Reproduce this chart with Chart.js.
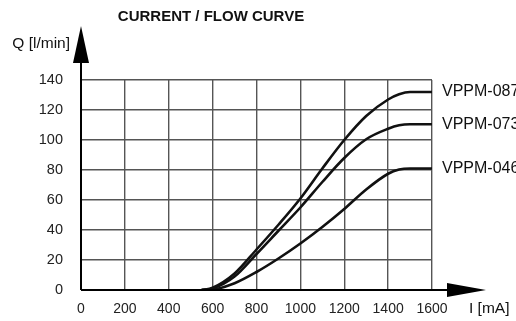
<!DOCTYPE html>
<html lang="en">
<head>
    <meta charset="UTF-8">
    <title>Current / Flow Curve</title>
    <script src="https://cdn.jsdelivr.net/npm/chart.js"></script>
    <style>
        html, body { margin: 0; padding: 0; background: #fff; }
        #wrap { width: 516px; height: 321px; }
    </style>
</head>
<body>
    <div id="wrap"><canvas id="courbe"></canvas></div>

    <script>
        // Courant de commande (mA) et débit (l/min) pour chaque modèle
        const courant   = [550, 600, 700, 800, 900, 1000, 1100, 1200, 1300, 1400, 1450, 1500, 1600];
        const vppm087   = [0, 1.5, 11, 27, 43.5, 61, 81, 100, 116, 127, 130.5, 132, 132];
        const vppm073   = [0, 1, 9, 24, 39.5, 55, 72, 88, 100.5, 107.5, 109.8, 110.5, 110.5];
        const vppm046   = [0, 0.3, 4.5, 12, 21, 31, 42, 54, 67, 77.5, 80.3, 81, 81];
        const nomsSeries = ['VPPM-087', 'VPPM-073', 'VPPM-046'];
        const ticksX = [0, 200, 400, 600, 800, 1000, 1200, 1400, 1600];
        const ticksY = [0, 20, 40, 60, 80, 100, 120, 140];

        const police = '"Liberation Sans", Arial, sans-serif';

        const serie = (valeurs, nom) => ({
            label: nom,
            data: courant.map((c, i) => ({ x: c, y: valeurs[i] })),
            borderColor: '#111',
            borderWidth: 2.6,
            pointRadius: 0,
            cubicInterpolationMode: 'monotone',
            fill: false
        });

        // Flèches des axes, titre, unités et noms des courbes
        const habillage = {
            id: 'habillage',
            afterDraw(chart) {
                const { ctx, scales: { x, y } } = chart;
                const x0 = x.getPixelForValue(0);
                const y0 = y.getPixelForValue(0);
                ctx.save();
                ctx.strokeStyle = '#000';
                ctx.fillStyle = '#000';
                ctx.lineWidth = 2;

                // axe vertical prolongé + flèche
                ctx.beginPath();
                ctx.moveTo(x0, y0);
                ctx.lineTo(x0, 50);
                ctx.stroke();
                ctx.beginPath();
                ctx.moveTo(x0, 26);
                ctx.lineTo(x0 - 8, 63);
                ctx.lineTo(x0 + 8, 63);
                ctx.closePath();
                ctx.fill();

                // axe horizontal prolongé + flèche
                ctx.beginPath();
                ctx.moveTo(x0, y0);
                ctx.lineTo(460, y0);
                ctx.stroke();
                ctx.beginPath();
                ctx.moveTo(486, y0);
                ctx.lineTo(447, y0 - 7);
                ctx.lineTo(447, y0 + 7);
                ctx.closePath();
                ctx.fill();

                ctx.fillStyle = '#111';
                ctx.font = 'bold 15px ' + police;
                ctx.textAlign = 'center';
                ctx.textBaseline = 'middle';
                ctx.fillText('CURRENT / FLOW CURVE', 211, 17);

                ctx.font = '15.5px ' + police;
                ctx.textAlign = 'right';
                ctx.fillText('Q [l/min]', 70, 44);
                ctx.textAlign = 'left';
                ctx.fillText('I [mA]', 469, 309);

                // nom de chaque modèle au bout de sa courbe
                ctx.font = '16px ' + police;
                chart.data.datasets.forEach((ds) => {
                    const fin = ds.data[ds.data.length - 1];
                    ctx.fillText(ds.label, x.getPixelForValue(fin.x) + 10, y.getPixelForValue(fin.y));
                });
                ctx.restore();
            }
        };

        new Chart(document.getElementById('courbe'), {
            type: 'line',
            data: {
                datasets: [
                    serie(vppm087, nomsSeries[0]),
                    serie(vppm073, nomsSeries[1]),
                    serie(vppm046, nomsSeries[2])
                ]
            },
            options: {
                responsive: true,
                maintainAspectRatio: false,
                animation: false,
                layout: { padding: { top: 80, right: 84, left: 0, bottom: 0 } },
                plugins: {
                    legend: { display: false },
                    tooltip: { enabled: false }
                },
                scales: {
                    x: {
                        type: 'linear',
                        min: 0,
                        max: 1600,
                        afterBuildTicks: (s) => { s.ticks = ticksX.map(v => ({ value: v })); },
                        afterFit: (s) => { s.height = 31; },
                        grid: { color: '#555', lineWidth: 1.4, drawTicks: false },
                        border: { display: false },
                        ticks: {
                            color: '#222',
                            font: { family: police, size: 14 },
                            padding: 11,
                            maxRotation: 0,
                            callback: (v) => String(v)
                        }
                    },
                    y: {
                        min: 0,
                        max: 140,
                        afterBuildTicks: (s) => { s.ticks = ticksY.map(v => ({ value: v })); },
                        afterFit: (s) => { s.width = 81; },
                        grid: { color: '#555', lineWidth: 1.4, drawTicks: false },
                        border: { display: false },
                        ticks: {
                            color: '#222',
                            font: { family: police, size: 14.5 },
                            padding: 18,
                            callback: (v) => String(v)
                        }
                    }
                }
            },
            plugins: [habillage]
        });
    </script>
</body>
</html>
